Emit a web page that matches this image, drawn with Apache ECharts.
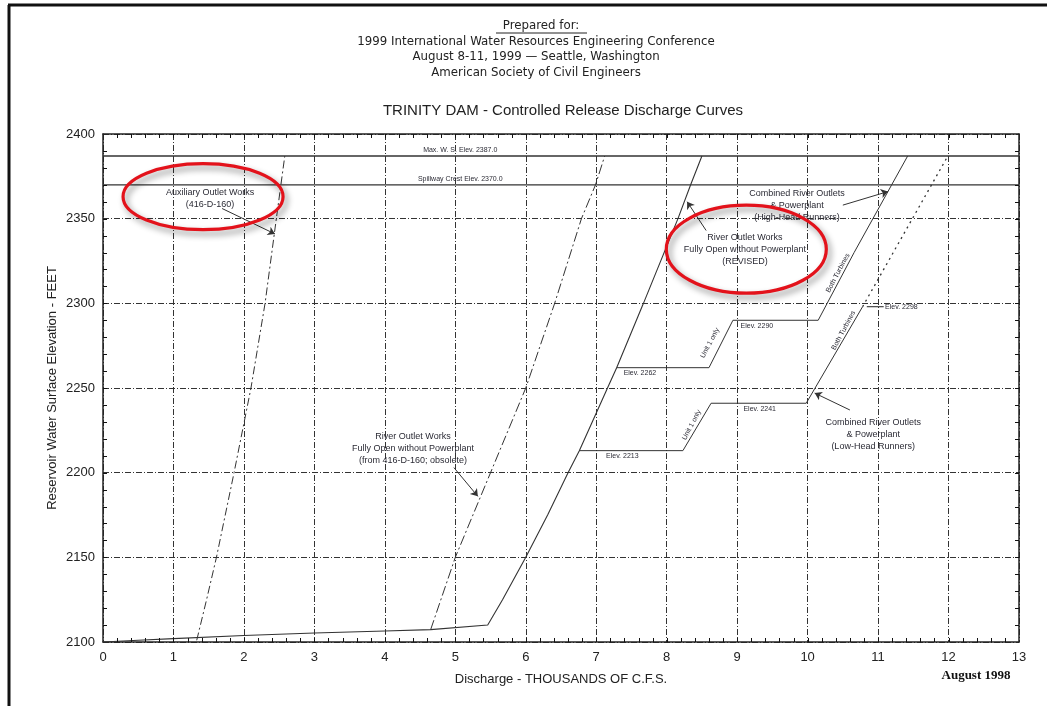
<!DOCTYPE html>
<html>
<head>
<meta charset="utf-8">
<script src="https://cdn.jsdelivr.net/npm/echarts@6/dist/echarts.min.js"></script>
<style>
html,body{margin:0;padding:0;background:#fff;}
#c{width:1047px;height:706px;}
</style>
</head>
<body>
<div id="c"></div>
<script>
// ---- data (discharge in thousands of cfs, elevation in feet) ----
const xTicks = [0,1,2,3,4,5,6,7,8,9,10,11,12,13];
const yTicks = [2100,2150,2200,2250,2300,2350,2400];
const xMinorStep = 0.2;   // minor tick spacing, thousands of cfs
const yMinorStep = 10;    // minor tick spacing, feet

const maxWS = [[0,2387],[13,2387]];
const spillway = [[0,2370],[13,2370]];

const auxiliary = [[1.33,2101],[1.47,2125],[1.61,2150],[1.86,2200],[2.10,2250],[2.30,2300],[2.46,2350],[2.58,2387]];

const riverObsolete = [[4.65,2107.3],[5.0,2150],[5.5,2200],[6.0,2250],[6.41,2300],[6.79,2350],[6.99,2370],[7.12,2387]];

const riverRevised = [[0,2100],[0.5,2101],[1,2102],[2,2103.8],[3,2105.3],[4,2106.5],[4.65,2107.3],[5.46,2110],
  [5.67,2125],[6.0,2150],[6.31,2175],[6.6,2200],[6.76,2213],[7.16,2250],[7.29,2262],[7.57,2290],[7.67,2300],
  [8.16,2350],[8.34,2370],[8.5,2387]];

const highHead = [[7.29,2262],[8.6,2262],[8.94,2290],[10.15,2290],[10.66,2330],[11.42,2387]];

const lowHeadSolid = [[6.76,2213],[8.23,2213],[8.63,2241],[9.98,2241],[10.78,2298]];
const lowHeadDotted = [[10.78,2298],[11.99,2387]];

// annotation arrows [from, to] in data units
const arrows = [
  [[1.69,2356],[2.44,2341]],
  [[8.56,2343],[8.29,2360]],
  [[10.50,2358],[11.14,2366]],
  [[4.98,2203],[5.32,2186]],
  [[10.60,2237],[10.10,2247]]
];

const chart = echarts.init(document.getElementById('c'));
const FONT = '"Liberation Sans", Arial, sans-serif';
const gridDash = [6,2,1,2];

function xAx(pos, labels){
  return {
    type:'value', min:xTicks[0], max:xTicks[xTicks.length-1], interval:1, position:pos,
    axisLine:{show:true, onZero:false, lineStyle:{color:'#222', width:1.5}},
    axisTick:{show:false},
    axisLabel:{show:labels, fontSize:13, color:'#222', fontFamily:FONT, margin:9},
    splitLine:{show:labels, lineStyle:{color:'#333', width:1, type:gridDash}}
  };
}
function yAx(pos, labels){
  return {
    type:'value', min:yTicks[0], max:yTicks[yTicks.length-1], interval:50, position:pos,
    axisLine:{show:true, onZero:false, lineStyle:{color:'#222', width:1.5}},
    axisTick:{show:false},
    axisLabel:{show:labels, fontSize:13, color:'#222', fontFamily:FONT, margin:8, formatter:v=>String(v)},
    splitLine:{show:labels, lineStyle:{color:'#333', width:1, type:gridDash}}
  };
}

const xA0 = xAx('bottom', true);
xA0.name = 'Discharge - THOUSANDS OF C.F.S.';
xA0.nameLocation = 'middle';
xA0.nameGap = 31;
xA0.nameTextStyle = {fontSize:13, color:'#222', fontFamily:FONT};
const yA0 = yAx('left', true);

function lineSeries(name, data, color, width, type){
  return {name, type:'line', data, showSymbol:false, symbol:'none', silent:true, animation:false,
    lineStyle:{color, width, type}, z:3};
}

chart.setOption({
  animation:false,
  backgroundColor:'#fff',
  grid:{left:103, right:28, top:134, bottom:64, containLabel:false},
  xAxis:[xA0, xAx('top', false)],
  yAxis:[yA0, yAx('right', false)],
  series:[
    lineSeries('Max W.S.', maxWS, '#333', 1.3, 'solid'),
    lineSeries('Spillway Crest', spillway, '#333', 1.3, 'solid'),
    lineSeries('Auxiliary Outlet Works', auxiliary, '#333', 1, [8,3,2,3]),
    lineSeries('River Outlet Works (obsolete)', riverObsolete, '#333', 1, [10,3,2,3]),
    lineSeries('River Outlet Works (revised)', riverRevised, '#333', 1.1, 'solid'),
    lineSeries('Combined High-Head', highHead, '#333', 1, 'solid'),
    lineSeries('Combined Low-Head', lowHeadSolid, '#333', 1, 'solid'),
    lineSeries('Combined Low-Head (ext)', lowHeadDotted, '#333', 1.3, [2,4]),
    {type:'lines', coordinateSystem:'cartesian2d', silent:true, animation:false, z:4,
      symbol:['none','arrow'], symbolSize:[0,7],
      lineStyle:{color:'#333', width:1, opacity:1},
      data: arrows.map(a=>({coords:a}))}
  ]
});

function P(x,y){ return chart.convertToPixel({xAxisIndex:0, yAxisIndex:0},[x,y]); }

const g = [];
function seg(a,b,w,c){
  g.push({type:'line', z:6, shape:{x1:a[0],y1:a[1],x2:b[0],y2:b[1]}, style:{stroke:c||'#111', lineWidth:w||1}});
}

// inside ticks on all four sides (positions from the axis scale)
(function(){
  const x0 = xTicks[0], x1 = xTicks[xTicks.length-1], y0 = yTicks[0], y1 = yTicks[yTicks.length-1];
  const nx = Math.round((x1-x0)/xMinorStep), ny = Math.round((y1-y0)/yMinorStep);
  for (let i=1;i<nx;i++){
    const v = x0 + i*xMinorStep;
    const b = P(v,y0), t = P(v,y1);
    seg([Math.round(b[0])+0.5,b[1]],[Math.round(b[0])+0.5,b[1]-4]);
    seg([Math.round(t[0])+0.5,t[1]],[Math.round(t[0])+0.5,t[1]+4]);
  }
  for (let j=1;j<ny;j++){
    const v = y0 + j*yMinorStep;
    const l = P(x0,v), r = P(x1,v);
    seg([l[0],Math.round(l[1])+0.5],[l[0]+4,Math.round(l[1])+0.5]);
    seg([r[0],Math.round(r[1])+0.5],[r[0]-4,Math.round(r[1])+0.5]);
  }
})();

function txt(x,y,text,size,opts){
  const p = P(x,y);
  opts = opts || {};
  g.push({type:'text', x:p[0], y:p[1], rotation:opts.rot||0, z:10,
    style:{text, fill:opts.color||'#2b2b35', font:(opts.weight||'normal')+' '+size+'px '+(opts.family||FONT),
      align:opts.align||'center', verticalAlign:'middle', textAlign:opts.align||'center', textVerticalAlign:'middle',
      lineHeight:opts.lh||Math.round(size*1.25)}});
}
function ptxt(px,py,text,size,opts){
  opts = opts || {};
  g.push({type:'text', x:px, y:py, z:10, rotation:opts.rot||0,
    style:{text, fill:opts.color||'#222', font:(opts.weight||'normal')+' '+size+'px '+(opts.family||FONT),
      align:opts.align||'center', verticalAlign:'middle', textAlign:opts.align||'center', textVerticalAlign:'middle'}});
}

// y-axis title
(function(){
  const mid = P(0,(yTicks[0]+yTicks[yTicks.length-1])/2);
  ptxt(52, mid[1], 'Reservoir Water Surface Elevation - FEET', 13, {rot:Math.PI/2});
})();

// header
const HF = '"DejaVu Sans", sans-serif';
ptxt(541,26,'Prepared for:',11.8,{family:HF});
g.push({type:'line', shape:{x1:496,y1:33,x2:587,y2:33}, style:{stroke:'#222', lineWidth:1}});
ptxt(536,42,'1999 International Water Resources Engineering Conference',11.8,{family:HF});
ptxt(536,57,'August 8-11, 1999 \u2014 Seattle, Washington',11.8,{family:HF});
ptxt(536,73,'American Society of Civil Engineers',11.8,{family:HF});
ptxt(563,111,'TRINITY DAM - Controlled Release Discharge Curves',15);
ptxt(976,676,'August 1998',13,{weight:'bold', family:'"Liberation Serif", "Times New Roman", serif', color:'#111'});

// page border
g.push({type:'line', shape:{x1:8,y1:5,x2:1047,y2:5}, style:{stroke:'#111', lineWidth:3}});
g.push({type:'line', shape:{x1:9,y1:5,x2:9,y2:706}, style:{stroke:'#111', lineWidth:3}});

// reference line labels
txt(5.07,2390.5,'Max. W. S. Elev. 2387.0',7);
txt(5.07,2373.4,'Spillway Crest Elev. 2370.0',7);

// curve labels
txt(1.52,2362,'Auxiliary Outlet Works\n(416-D-160)',9,{lh:12});
txt(9.11,2331.5,'River Outlet Works\nFully Open without Powerplant\n(REVISED)',9,{lh:12});
txt(9.85,2358,'Combined River Outlets\n& Powerplant\n(High-Head Runners)',9,{lh:12});
txt(4.40,2214,'River Outlet Works\nFully Open without Powerplant\n(from 416-D-160; obsolete)',9,{lh:12});
txt(10.93,2222.8,'Combined River Outlets\n& Powerplant\n(Low-Head Runners)',9,{lh:12});

// elevation labels
txt(7.62,2258.9,'Elev. 2262',7);
txt(7.37,2210,'Elev. 2213',7);
txt(9.28,2286.6,'Elev. 2290',7);
txt(9.32,2237.6,'Elev. 2241',7);
txt(11.10,2297.8,'Elev. 2298',7,{align:'left'});
seg(P(10.84,2298), P(11.08,2298), 1, '#222');

// rotated segment labels
const R = 62*Math.PI/180;
txt(8.614,2276.6,'Unit 1 only',7,{rot:R});
txt(8.355,2228.2,'Unit 1 only',7,{rot:R});
txt(10.43,2317.9,'Both Turbines',7,{rot:R});
txt(10.51,2284.0,'Both Turbines',7,{rot:R});

// red highlight ellipses
function ell(x,y,rx,ry){
  const p = P(x,y);
  g.push({type:'ellipse', z:12, shape:{cx:p[0], cy:p[1], rx, ry},
    style:{fill:'none', stroke:'#e3121b', lineWidth:3.2,
      shadowBlur:6, shadowColor:'rgba(0,0,0,0.45)', shadowOffsetX:3, shadowOffsetY:4}});
}
ell(1.42,2363,80,33);
ell(9.13,2332,80,44);

chart.setOption({graphic:{elements:g}});
</script>
</body>
</html>
